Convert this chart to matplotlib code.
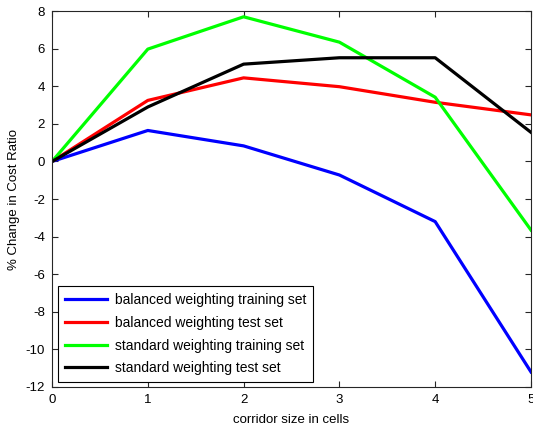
import matplotlib
matplotlib.use("Agg")
import matplotlib.pyplot as plt

x = [0, 1, 2, 3, 4, 5]
balanced_train = [0, 1.65, 0.83, -0.72, -3.2, -11.2]
balanced_test = [0, 3.25, 4.45, 3.98, 3.15, 2.48]
standard_train = [0, 5.98, 7.7, 6.35, 3.42, -3.65]
standard_test = [0, 2.9, 5.18, 5.52, 5.52, 1.55]
labels = ["balanced weighting training set", "balanced weighting test set",
          "standard weighting training set", "standard weighting test set"]
colors = ["#0000ff", "#ff0000", "#00ff00", "#000000"]

plt.rcParams['font.family'] = ['Liberation Sans', 'DejaVu Sans']
plt.rcParams['axes.unicode_minus'] = False
fig = plt.figure(figsize=(5.33, 4.29), dpi=100)
ax = fig.add_axes([0.0976, 0.098, 0.8986, 0.876])
for ys, lab, c in zip([balanced_train, balanced_test, standard_train, standard_test], labels, colors):
    ax.plot(x, ys, color=c, lw=2.3, label=lab)
ax.set_xlim(0, 5)
ax.set_ylim(-12, 8)
ax.set_xticks(range(0, 6))
ax.set_yticks(range(-12, 9, 2))
ax.tick_params(direction='in', top=True, right=True, labelsize=9.5, length=4, color='#262626', pad=5)
for s in ax.spines.values():
    s.set_color('#262626')
ax.set_xlabel("corridor size in cells", fontsize=9.5, labelpad=6)
ax.set_ylabel("% Change in Cost Ratio", fontsize=9.5, labelpad=4)
leg = ax.legend(loc='lower left', bbox_to_anchor=(0.0125, 0.013), borderaxespad=0,
                fancybox=False, edgecolor='black', framealpha=1, fontsize=10,
                handlelength=3.0, labelspacing=0.62, handletextpad=0.6, borderpad=0.5)
leg.get_frame().set_linewidth(0.8)
fig.savefig("out.png", dpi=100)
